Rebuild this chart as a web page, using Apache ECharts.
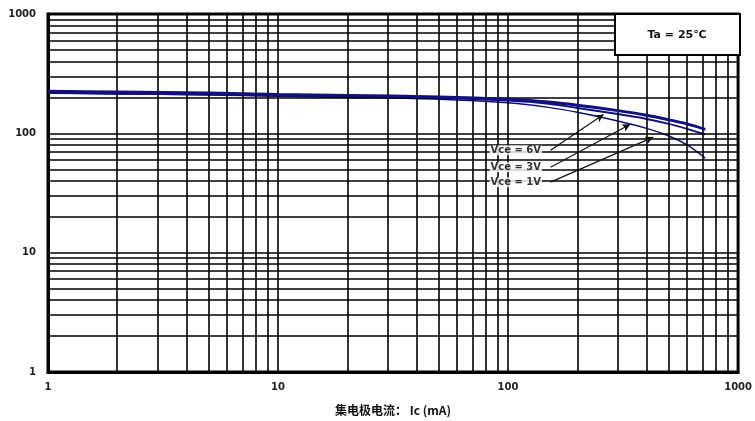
<!DOCTYPE html>
<html>
<head>
<meta charset="utf-8">
<script src="https://cdn.jsdelivr.net/npm/echarts@6/dist/echarts.min.js"></script>
<style>
html,body{margin:0;padding:0;background:#fff;}
#c{width:755px;height:421px;}
</style>
</head>
<body>
<div id="c"></div>
<script>
// Collector current Ic (mA)
const icValues = [1, 2, 5, 10, 20, 50, 100, 150, 200, 300, 400, 500, 600, 720];
// hFE readings per Vce
const vce6 = [225, 222, 218, 212, 208, 202, 193, 183, 172, 155, 142, 130, 120, 108];
const vce3 = [218, 215, 212, 207, 203, 198, 188, 177, 163, 145, 132, 120, 109, 98];
const vce1 = [218, 214, 210, 205, 200, 193, 180, 165, 150, 127, 110, 95, 80, 62];
// Annotation arrows: [label, startIc, startHfe, tipIc, tipHfe]
const arrows = [
  ['Vce = 6V', 153, 72, 260, 144],
  ['Vce = 3V', 153, 52, 340, 119],
  ['Vce = 1V', 153, 39, 428, 93]
];
const decades = [1, 10, 100];
const multiples = [1, 2, 3, 4, 5, 6, 7, 8, 9];
const xTicks = ['1', '10', '100', '1000'];

const gridVals = [];
decades.forEach(d => multiples.forEach(m => gridVals.push(d * m)));
gridVals.push(1000);

const gridLines = [];
gridVals.forEach(v => { gridLines.push({xAxis: v}); gridLines.push({yAxis: v}); });

const blue = '#10107e';
const chart = echarts.init(document.getElementById('c'));
chart.setOption({
  animation: false,
  backgroundColor: '#fff',
  grid: {left: 48, right: 15, top: 14, bottom: 47, show: true, borderColor: '#000', borderWidth: 3, backgroundColor: '#fff'},
  xAxis: {
    type: 'log', logBase: 10, min: 1, max: 1000,
    name: '集电极电流： Ic (mA)', nameLocation: 'middle', nameGap: 32,
    nameTextStyle: {fontFamily: 'Noto Sans CJK SC', fontWeight: 'bold', fontSize: 12, color: '#111'},
    axisLine: {show: true, lineStyle: {color: '#000', width: 3}},
    axisTick: {show: false},
    splitLine: {show: false},
    axisLabel: {margin: 10, fontSize: 10, fontFamily: 'DejaVu Sans', fontWeight: 'bold', color: '#222', formatter: v => xTicks[Math.round(Math.log10(v))] || ''}
  },
  yAxis: {
    type: 'log', logBase: 10, min: 1, max: 1000,
    axisLine: {show: true, lineStyle: {color: '#000', width: 3}},
    axisTick: {show: false},
    splitLine: {show: false},
    axisLabel: {margin: 12, fontSize: 10, fontFamily: 'DejaVu Sans', fontWeight: 'bold', color: '#222', formatter: v => xTicks[Math.round(Math.log10(v))] || ''}
  },
  series: [
    {
      type: 'line', data: [], silent: true, z: 1,
      markLine: {silent: true, symbol: ['none', 'none'], label: {show: false},
        lineStyle: {color: '#000', width: 1.6, type: 'solid'}, data: gridLines, animation: false}
    },
    {type: 'line', name: 'Vce=1V', data: icValues.map((x, i) => [x, vce1[i]]), showSymbol: false, smooth: 0.3, z: 3,
      lineStyle: {color: blue, width: 1.5}},
    {type: 'line', name: 'Vce=3V', data: icValues.map((x, i) => [x, vce3[i]]), showSymbol: false, smooth: 0.3, z: 4,
      lineStyle: {color: blue, width: 2}},
    {type: 'line', name: 'Vce=6V', data: icValues.map((x, i) => [x, vce6[i]]), showSymbol: false, smooth: 0.3, z: 5,
      lineStyle: {color: blue, width: 3}},
    {
      type: 'scatter', symbolSize: 1, z: 6, silent: true,
      itemStyle: {color: 'rgba(0,0,0,0)'},
      data: arrows.map(a => ({value: [a[1], a[2]], label: {show: true, formatter: a[0]}})),
      label: {position: 'left', distance: 8, fontSize: 10, fontFamily: 'DejaVu Sans', fontWeight: 'bold', color: '#000',
        backgroundColor: '#fff', padding: [0, 1]},
      markLine: {
        silent: true, symbol: ['none', 'arrow'], symbolSize: [6, 8], label: {show: false},
        lineStyle: {color: '#111', width: 1.2, type: 'solid'},
        data: arrows.map(a => [{coord: [a[1], a[2]]}, {coord: [a[3], a[4]]}])
      }
    }
  ],
  graphic: [
    {type: 'rect', shape: {x: 615, y: 14, width: 125, height: 41}, z: 100,
      style: {fill: '#fff', stroke: '#000', lineWidth: 2}},
    {type: 'text', x: 677, y: 35, z: 101,
      style: {text: 'Ta = 25℃', fontFamily: 'DejaVu Sans', fontWeight: 'bold', fontSize: 11, fill: '#111', textAlign: 'center', textVerticalAlign: 'middle'}}
  ]
});
</script>
</body>
</html>
